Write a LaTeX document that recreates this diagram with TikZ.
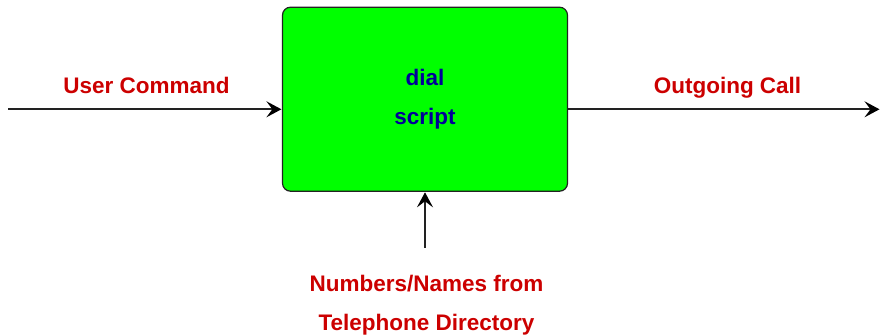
\documentclass[tikz,border=0pt]{standalone}
\usepackage{fontspec}
\setmainfont{Liberation Sans}
\usetikzlibrary{arrows.meta}
\definecolor{boxgreen}{HTML}{00FF00}
\definecolor{lblred}{HTML}{CC0000}
\definecolor{lblblue}{HTML}{000099}
\definecolor{edge}{HTML}{222222}
\begin{document}
\begin{tikzpicture}[x=1pt,y=-1pt,
  lbl/.style={font=\fontsize{22.5}{27}\selectfont\bfseries, text=lblred, anchor=base, inner sep=0pt},
  inlbl/.style={font=\fontsize{22.5}{27}\selectfont\bfseries, text=lblblue, anchor=base, inner sep=0pt},
  flow/.style={draw=edge, line width=1.6pt, -{Stealth[length=15pt,width=16pt,inset=6pt,color=black]}, shorten >=0.5pt}
]
\useasboundingbox (0,0) rectangle (881,336);
\node[draw=edge, line width=1.2pt, fill=boxgreen, rounded corners=8pt, minimum width=285pt, minimum height=184pt, inner sep=0pt] (box) at (425,99.2) {};
\coordinate (inL) at (8,109.3);
\coordinate (outR) at (880,109.3);
\coordinate (inB) at (425,248);
\draw[flow] (inL) -- (inL -| box.west);
\draw[flow] (outR -| box.east) -- (outR);
\draw[flow] (inB) -- (inB |- box.south);
\node[lbl] (uc) at (146.5,93.3) {User Command};
\node[lbl] (oc) at (727.5,93.3) {Outgoing Call};
\node[inlbl] (d1) at (425,85.8) {dial};
\node[inlbl] (d2) at (425,125) {script};
\node[lbl] (n1) at (426.5,291.7) {Numbers/Names from};
\node[lbl] (n2) at (426.5,331) {Telephone Directory};
\end{tikzpicture}
\end{document}
